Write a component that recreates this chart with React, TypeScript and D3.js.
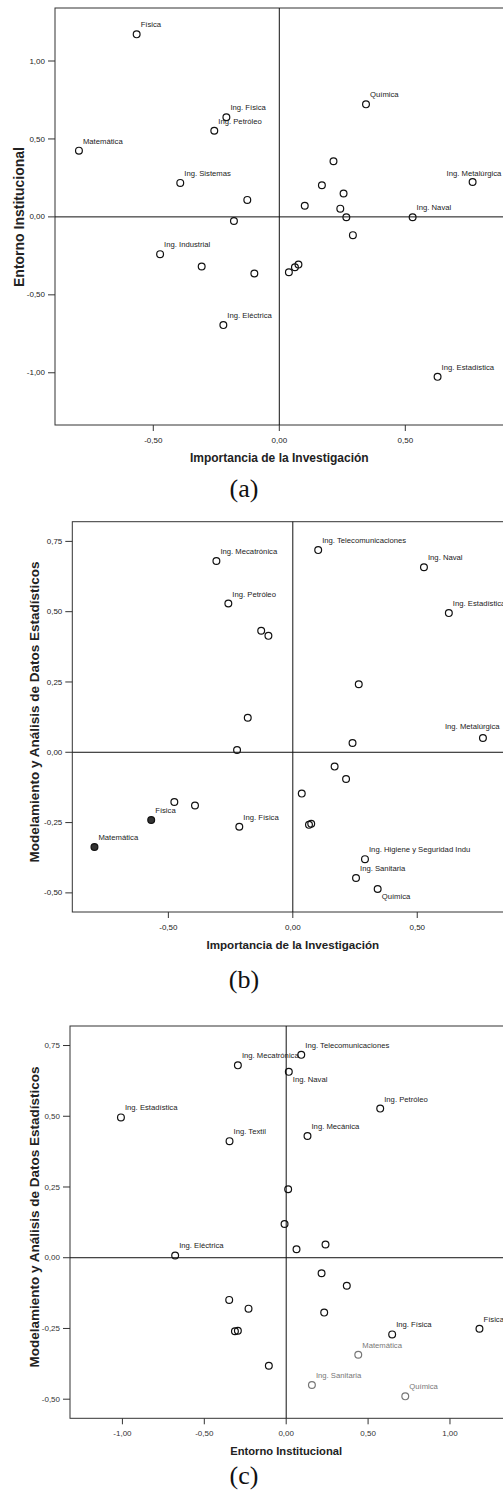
import * as d3 from "d3";

type Pt = { name: string; x: number; y: number };

// (a) Importancia de la Investigación vs Entorno Institucional
const puntosA: Pt[] = [
  { name: "Física", x: -0.566, y: 1.171 },
  { name: "Matemática", x: -0.795, y: 0.425 },
  { name: "Ing. Física", x: -0.21, y: 0.639 },
  { name: "Ing. Petróleo", x: -0.258, y: 0.553 },
  { name: "Ing. Sistemas", x: -0.393, y: 0.218 },
  { name: "", x: -0.127, y: 0.109 },
  { name: "", x: -0.18, y: -0.026 },
  { name: "Química", x: 0.344, y: 0.722 },
  { name: "", x: 0.215, y: 0.357 },
  { name: "", x: 0.169, y: 0.203 },
  { name: "", x: 0.255, y: 0.15 },
  { name: "", x: 0.101, y: 0.071 },
  { name: "", x: 0.242, y: 0.053 },
  { name: "", x: 0.266, y: -0.002 },
  { name: "Ing. Naval", x: 0.529, y: -0.002 },
  { name: "Ing. Metalúrgica", x: 0.767, y: 0.224 },
  { name: "", x: 0.292, y: -0.117 },
  { name: "Ing. Industrial", x: -0.473, y: -0.239 },
  { name: "", x: -0.308, y: -0.318 },
  { name: "", x: -0.099, y: -0.363 },
  { name: "", x: 0.038, y: -0.355 },
  { name: "", x: 0.062, y: -0.323 },
  { name: "", x: 0.076, y: -0.306 },
  { name: "Ing. Eléctrica", x: -0.222, y: -0.694 },
  { name: "Ing. Estadística", x: 0.628, y: -1.026 },
];

// (b) Importancia de la Investigación vs Modelamiento y Análisis de Datos
const puntosB: Pt[] = [
  { name: "Ing. Mecatrónica", x: -0.307, y: 0.68 },
  { name: "Ing. Petróleo", x: -0.259, y: 0.529 },
  { name: "", x: -0.127, y: 0.432 },
  { name: "", x: -0.098, y: 0.414 },
  { name: "", x: -0.181, y: 0.123 },
  { name: "Ing. Telecomunicaciones", x: 0.102, y: 0.719 },
  { name: "Ing. Naval", x: 0.527, y: 0.658 },
  { name: "Ing. Estadística", x: 0.627, y: 0.495 },
  { name: "", x: 0.265, y: 0.242 },
  { name: "Ing. Metalúrgica", x: 0.764, y: 0.051 },
  { name: "", x: -0.224, y: 0.008 },
  { name: "", x: 0.24, y: 0.033 },
  { name: "", x: 0.168, y: -0.051 },
  { name: "", x: 0.214, y: -0.095 },
  { name: "", x: 0.036, y: -0.147 },
  { name: "", x: -0.476, y: -0.177 },
  { name: "", x: -0.393, y: -0.189 },
  { name: "Física", x: -0.569, y: -0.241 },
  { name: "Matemática", x: -0.797, y: -0.337 },
  { name: "Ing. Física", x: -0.215, y: -0.265 },
  { name: "", x: 0.065, y: -0.258 },
  { name: "", x: 0.074, y: -0.254 },
  { name: "Ing. Higiene y Seguridad Indu", x: 0.29, y: -0.38 },
  { name: "Ing. Sanitaria", x: 0.254, y: -0.447 },
  { name: "Química", x: 0.341, y: -0.486 },
];

// (c) Entorno Institucional vs Modelamiento y Análisis de Datos
const puntosC: Pt[] = [
  { name: "Ing. Telecomunicaciones", x: 0.092, y: 0.717 },
  { name: "Ing. Mecatrónica", x: -0.295, y: 0.68 },
  { name: "Ing. Naval", x: 0.016, y: 0.657 },
  { name: "Ing. Estadística", x: -1.009, y: 0.496 },
  { name: "Ing. Petróleo", x: 0.574, y: 0.527 },
  { name: "Ing. Textil", x: -0.346, y: 0.412 },
  { name: "Ing. Mecánica", x: 0.13, y: 0.43 },
  { name: "", x: 0.012, y: 0.242 },
  { name: "", x: -0.01, y: 0.119 },
  { name: "Ing. Eléctrica", x: -0.678, y: 0.008 },
  { name: "", x: 0.063, y: 0.03 },
  { name: "", x: 0.24, y: 0.047 },
  { name: "", x: 0.216, y: -0.055 },
  { name: "", x: 0.37, y: -0.099 },
  { name: "", x: -0.348, y: -0.149 },
  { name: "", x: -0.23, y: -0.18 },
  { name: "", x: 0.232, y: -0.194 },
  { name: "", x: -0.313, y: -0.26 },
  { name: "", x: -0.295, y: -0.258 },
  { name: "", x: -0.106, y: -0.382 },
  { name: "Ing. Física", x: 0.647, y: -0.271 },
  { name: "Física", x: 1.18, y: -0.251 },
  { name: "Matemática", x: 0.44, y: -0.343 },
  { name: "Ing. Sanitaria", x: 0.157, y: -0.45 },
  { name: "Química", x: 0.727, y: -0.49 },
];

const ticksAX = [-0.5, 0, 0.5];
const ticksAY = [-1, -0.5, 0, 0.5, 1];
const ticksBX = [-0.5, 0, 0.5];
const ticksBY = [-0.5, -0.25, 0, 0.25, 0.5, 0.75];
const ticksCX = [-1, -0.5, 0, 0.5, 1];
const ticksCY = [-0.5, -0.25, 0, 0.25, 0.5, 0.75];

// puntos rellenos en (b) y puntos desteñidos en (c)
const rellenosB = ["Física", "Matemática"];
const tenuesC = ["Matemática", "Ing. Sanitaria", "Química"];

// ajustes de etiquetas que no van arriba a la derecha
const ajusteEtiqueta: Record<string, [number, number]> = {
  "a:Ing. Metalúrgica": [-26, -6],
  "b:Ing. Metalúrgica": [-38, -9],
  "b:Química": [4, 10],
  "c:Ing. Naval": [4, 10],
};

const fmt = d3
  .formatLocale({ decimal: ",", thousands: ".", grouping: [3], currency: ["", ""], minus: "-" })
  .format(".2f");

const sans = "'Liberation Sans', Arial, sans-serif";

const panels = [
  {
    key: "a",
    points: puntosA,
    xDomain: [-0.89, 0.89],
    yDomain: [-1.335, 1.34],
    xRange: [55, 503.6],
    yRange: [425, 8],
    xTicks: ticksAX,
    yTicks: ticksAY,
    xTitle: "Importancia de la Investigación",
    yTitle: "Entorno Institucional",
    xTitleSize: 12,
    yTitleSize: 14,
    yTitleX: 24,
    yTitleY: 217,
    caption: "(a)",
    captionY: 497,
    ink: "#222",
  },
  {
    key: "b",
    points: puntosB,
    xDomain: [-0.886, 0.886],
    yDomain: [-0.568, 0.82],
    xRange: [72.3, 513.3],
    yRange: [912, 521.7],
    xTicks: ticksBX,
    yTicks: ticksBY,
    xTitle: "Importancia de la Investigación",
    yTitle: "Modelamiento y Análisis de Datos Estadísticos",
    xTitleSize: 11.6,
    yTitleSize: 13.5,
    yTitleX: 39,
    yTitleY: 712,
    caption: "(b)",
    captionY: 988,
    ink: "#222",
  },
  {
    key: "c",
    points: puntosC,
    xDomain: [-1.32, 1.35],
    yDomain: [-0.5675, 0.819],
    xRange: [70, 507.3],
    yRange: [1418.3, 1026],
    xTicks: ticksCX,
    yTicks: ticksCY,
    xTitle: "Entorno Institucional",
    yTitle: "Modelamiento y Análisis de Datos Estadísticos",
    xTitleSize: 11.2,
    yTitleSize: 13.5,
    yTitleX: 39,
    yTitleY: 1217,
    caption: "(c)",
    captionY: 1484,
    ink: "#333",
  },
];

const Panel = ({ p }: { p: (typeof panels)[number] }) => {
  const x = d3.scaleLinear().domain(p.xDomain).range(p.xRange);
  const y = d3.scaleLinear().domain(p.yDomain).range(p.yRange);
  const [left, right] = p.xRange;
  const [bottom, top] = p.yRange;

  return (
    <g>
      {/* marco */}
      <rect x={left} y={top} width={right - left} height={bottom - top} fill="none" stroke="#333" strokeWidth={1} />
      {/* líneas de referencia en cero */}
      <line x1={x(0)} x2={x(0)} y1={top} y2={bottom} stroke="#111" strokeWidth={1} />
      <line x1={left} x2={right} y1={y(0)} y2={y(0)} stroke="#111" strokeWidth={1} />

      {p.yTicks.map((t) => (
        <g key={`y${t}`} transform={`translate(${left},${y(t)})`}>
          <line x1={-7} x2={0} stroke="#333" />
          <text x={-10} dy="0.32em" textAnchor="end" fontSize={8} fill={p.ink} fontFamily={sans}>
            {fmt(t)}
          </text>
        </g>
      ))}
      {p.xTicks.map((t) => (
        <g key={`x${t}`} transform={`translate(${x(t)},${bottom})`}>
          <line y1={0} y2={6} stroke="#333" />
          <text y={18} textAnchor="middle" fontSize={8} fill={p.ink} fontFamily={sans}>
            {fmt(t)}
          </text>
        </g>
      ))}

      {p.points.map((d, i) => {
        const filled = p.key === "b" && rellenosB.includes(d.name);
        const faded = p.key === "c" && tenuesC.includes(d.name);
        return (
          <circle
            key={i}
            cx={x(d.x)}
            cy={y(d.y)}
            r={3.4}
            fill={filled ? "#333" : "none"}
            stroke={faded ? "#777" : "#111"}
            strokeWidth={1.2}
          />
        );
      })}
      {p.points
        .filter((d) => d.name)
        .map((d, i) => {
          const [dx, dy] = ajusteEtiqueta[`${p.key}:${d.name}`] ?? [4, -7];
          const faded = p.key === "c" && tenuesC.includes(d.name);
          return (
            <text
              key={i}
              x={x(d.x) + dx}
              y={y(d.y) + dy}
              fontSize={7.7}
              fontFamily={sans}
              fill={faded ? "#777" : "#222"}
            >
              {d.name}
            </text>
          );
        })}

      <text
        x={x(0)}
        y={bottom + 37}
        textAnchor="middle"
        fontSize={p.xTitleSize}
        fontWeight="bold"
        fontFamily={sans}
        fill="#222"
      >
        {p.xTitle}
      </text>
      <text
        transform={`translate(${p.yTitleX},${p.yTitleY}) rotate(-90)`}
        textAnchor="middle"
        fontSize={p.yTitleSize}
        fontWeight="bold"
        fontFamily={sans}
        fill="#222"
      >
        {p.yTitle}
      </text>
      <text
        x={244}
        y={p.captionY}
        textAnchor="middle"
        fontSize={26}
        fontFamily="'Liberation Serif', 'Times New Roman', serif"
        fill="#111"
      >
        {p.caption}
      </text>
    </g>
  );
};

export default function App() {
  return (
    <svg
      width={503}
      height={1492}
      style={{ position: "absolute", left: 0, top: 0, background: "#fff" }}
    >
      {panels.map((p) => (
        <Panel key={p.key} p={p} />
      ))}
    </svg>
  );
}
